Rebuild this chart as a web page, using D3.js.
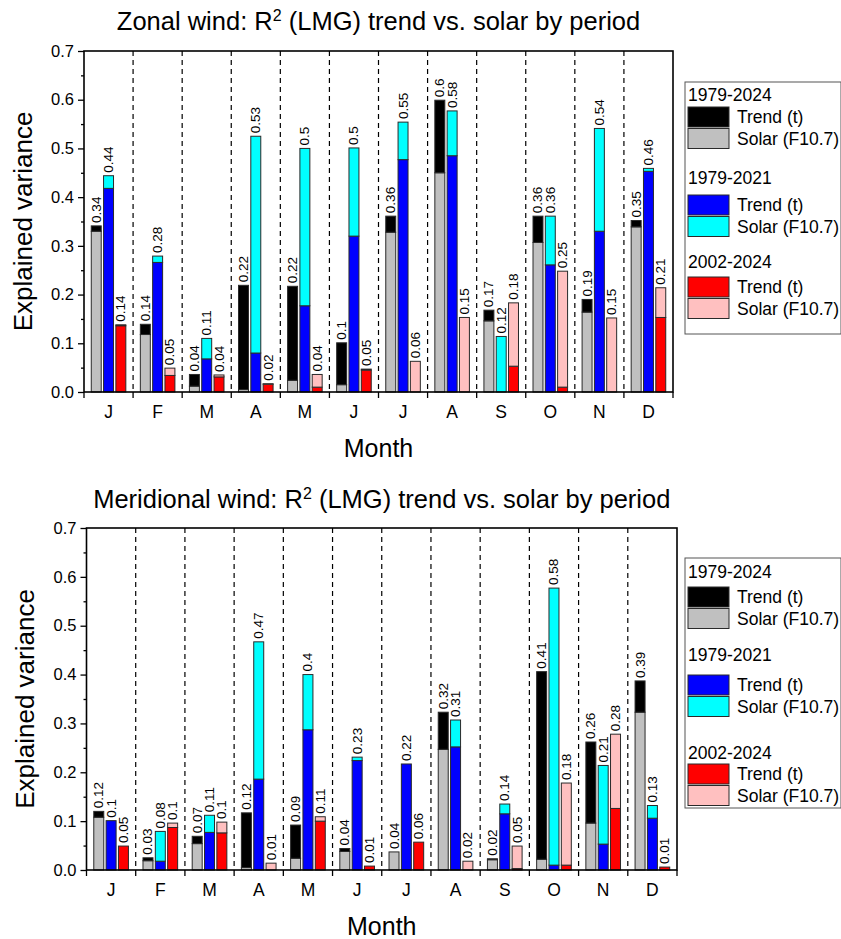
<!DOCTYPE html>
<html>
<head>
<meta charset="utf-8">
<script src="https://cdn.jsdelivr.net/npm/d3@7"></script>
<style>
  html, body { margin: 0; padding: 0; background: #fff; }
  svg { display: block; font-family: "Liberation Sans", Arial, sans-serif; }
</style>
</head>
<body>
<svg id="chart" width="841" height="939"></svg>
<script>
// ---------- DATA ----------
const monthLabels = ["J","F","M","A","M","J","J","A","S","O","N","D"];
const periods = ["1979-2024","1979-2021","2002-2024"];
const yTicks = [0, 0.1, 0.2, 0.3, 0.4, 0.5, 0.6, 0.7];
const legendItems = ["Trend (t)", "Solar (F10.7)"];

// Zonal wind
const zonalSolar7924 = [0.330,0.118,0.012,0.005,0.024,0.015,0.328,0.450,0.146,0.307,0.164,0.339];
const zonalTrend7924 = [0.011,0.021,0.024,0.214,0.193,0.086,0.033,0.149,0.022,0.054,0.026,0.013];
const zonalTrend7921 = [0.418,0.266,0.068,0.080,0.177,0.320,0.477,0.485,0.000,0.261,0.330,0.453];
const zonalSolar7921 = [0.026,0.013,0.042,0.445,0.323,0.181,0.077,0.092,0.114,0.100,0.211,0.006];
const zonalTrend0224 = [0.136,0.034,0.031,0.016,0.010,0.045,0.000,0.000,0.053,0.010,0.000,0.153];
const zonalSolar0224 = [0.002,0.015,0.004,0.001,0.026,0.002,0.063,0.153,0.130,0.238,0.152,0.061];
const zonalLabels7924 = ["0.34","0.14","0.04","0.22","0.22","0.1","0.36","0.6","0.17","0.36","0.19","0.35"];
const zonalLabels7921 = ["0.44","0.28","0.11","0.53","0.5","0.5","0.55","0.58","0.12","0.36","0.54","0.46"];
const zonalLabels0224 = ["0.14","0.05","0.04","0.02","0.04","0.05","0.06","0.15","0.18","0.25","0.15","0.21"];

// Meridional wind
const meridSolar7924 = [0.108,0.019,0.054,0.005,0.024,0.038,0.037,0.247,0.021,0.022,0.096,0.323];
const meridTrend7924 = [0.012,0.006,0.015,0.112,0.068,0.006,0.000,0.076,0.002,0.384,0.166,0.064];
const meridTrend7921 = [0.101,0.018,0.077,0.186,0.287,0.224,0.217,0.252,0.115,0.010,0.053,0.106];
const meridSolar7921 = [0.000,0.061,0.035,0.281,0.113,0.007,0.000,0.055,0.020,0.567,0.161,0.026];
const meridTrend0224 = [0.049,0.087,0.076,0.000,0.100,0.008,0.057,0.000,0.003,0.010,0.126,0.006];
const meridSolar0224 = [0.000,0.009,0.022,0.014,0.009,0.000,0.000,0.018,0.046,0.168,0.152,0.000];
const meridLabels7924 = ["0.12","0.03","0.07","0.12","0.09","0.04","0.04","0.32","0.02","0.41","0.26","0.39"];
const meridLabels7921 = ["0.1","0.08","0.11","0.47","0.4","0.23","0.22","0.31","0.14","0.58","0.21","0.13"];
const meridLabels0224 = ["0.05","0.1","0.1","0.01","0.11","0.01","0.06","0.02","0.05","0.18","0.28","0.01"];

// colours: [trend, solar] per period
const periodColors = [
  {trend: "#000000", solar: "#c0c0c0"},
  {trend: "#0000ff", solar: "#00ffff"},
  {trend: "#ff0000", solar: "#ffc0c0"}
];
// stacking order (bottom first) per period
const stackOrder = [["solar","trend"],["trend","solar"],["trend","solar"]];

// ---------- DRAW ----------
const svg = d3.select("#chart");
const FONT = "Liberation Sans, Arial, sans-serif";

function drawChart(cfg) {
  const g = svg.append("g");
  const months = d3.range(monthLabels.length);
  const x = d3.scaleBand().domain(months).range([cfg.x0, cfg.x1]).padding(0);
  const xi = d3.scaleBand().domain([0,1,2]).range([0, x.bandwidth()])
               .paddingInner(0.19).paddingOuter(0.59);
  const y = d3.scaleLinear().domain([0, 0.7]).range([cfg.y1, cfg.y0]);

  // dashed separators
  g.append("g").selectAll("line").data(d3.range(1, months.length)).join("line")
    .attr("x1", d => x(d)).attr("x2", d => x(d))
    .attr("y1", cfg.y0).attr("y2", cfg.y1)
    .attr("stroke", "#000").attr("stroke-width", 1.2)
    .attr("stroke-dasharray", "5,4");

  // bars
  cfg.series.forEach((s, p) => {
    months.forEach(m => {
      const vals = {trend: s.trend[m], solar: s.solar[m]};
      let base = 0;
      stackOrder[p].forEach(key => {
        const v = vals[key];
        if (v > 0) {
          g.append("rect")
            .attr("x", x(m) + xi(p))
            .attr("width", xi.bandwidth())
            .attr("y", y(base + v))
            .attr("height", y(base) - y(base + v))
            .attr("fill", periodColors[p][key])
            .attr("stroke", "#2a2a2a").attr("stroke-width", 1);
        }
        base += v;
      });
      const cx = x(m) + xi(p) + xi.bandwidth() / 2;
      const ty = y(base) - 3;
      g.append("text")
        .attr("transform", `translate(${cx + 4.5},${ty}) rotate(-90)`)
        .attr("font-size", 13.5).attr("font-family", FONT)
        .attr("fill", "#000")
        .text(s.labels[m]);
    });
  });

  // frame
  g.append("rect").attr("x", cfg.x0).attr("y", cfg.y0)
    .attr("width", cfg.x1 - cfg.x0).attr("height", cfg.y1 - cfg.y0)
    .attr("fill", "none").attr("stroke", "#000").attr("stroke-width", 1.6);

  // y axis
  const yAxis = d3.axisLeft(y).tickValues(yTicks).tickFormat(d3.format(".1f")).tickSize(6).tickPadding(4);
  const ya = g.append("g").attr("transform", `translate(${cfg.x0},0)`).call(yAxis);
  ya.select(".domain").remove();
  ya.selectAll("text").attr("font-size", 16.5).attr("font-family", FONT).attr("fill", "#000");
  ya.selectAll("line").attr("stroke-width", 1.3);
  const yMinor = d3.axisLeft(y).tickValues(d3.range(0.05, 0.7, 0.1)).tickFormat("").tickSize(3);
  const ym = g.append("g").attr("transform", `translate(${cfg.x0},0)`).call(yMinor);
  ym.select(".domain").remove();
  ym.selectAll("line").attr("stroke-width", 1.3);

  // x axis
  const xa = g.append("g");
  xa.selectAll("line").data(d3.range(0, months.length + 1)).join("line")
    .attr("x1", d => d < months.length ? x(d) : cfg.x1)
    .attr("x2", d => d < months.length ? x(d) : cfg.x1)
    .attr("y1", cfg.y1).attr("y2", cfg.y1 + 6)
    .attr("stroke", "#000").attr("stroke-width", 1.3);
  xa.selectAll("text").data(months).join("text")
    .attr("x", d => x(d) + x.bandwidth() / 2)
    .attr("y", cfg.y1 + 26)
    .attr("text-anchor", "middle")
    .attr("font-size", 17.5).attr("font-family", FONT)
    .text(d => monthLabels[d]);

  // axis titles
  g.append("text")
    .attr("transform", `translate(${cfg.yLabelX},${(cfg.y0 + cfg.y1) / 2}) rotate(-90)`)
    .attr("text-anchor", "middle").attr("font-size", 26).attr("font-family", FONT)
    .text("Explained variance");
  g.append("text")
    .attr("x", (cfg.x0 + cfg.x1) / 2).attr("y", cfg.y1 + 65)
    .attr("text-anchor", "middle").attr("font-size", 25).attr("font-family", FONT)
    .text("Month");

  // title
  const t = g.append("text")
    .attr("x", (cfg.x0 + cfg.x1) / 2).attr("y", cfg.titleY)
    .attr("text-anchor", "middle").attr("font-size", 25.5).attr("font-family", FONT);
  t.append("tspan").text(cfg.titleA);
  t.append("tspan").attr("dy", -9).attr("font-size", 16).text("2");
  t.append("tspan").attr("dy", 9).text(cfg.titleB);

  // legend
  const L = cfg.legend;
  const lg = g.append("g");
  lg.append("rect").attr("x", L.x).attr("y", L.y).attr("width", L.w).attr("height", L.h)
    .attr("fill", "#fff").attr("stroke", "#555").attr("stroke-width", 1);
  periods.forEach((pname, p) => {
    const gy = L.y + L.groupY[p];
    lg.append("text").attr("x", L.x + 3).attr("y", gy + 6)
      .attr("font-size", 17.5).attr("font-family", FONT).text(pname);
    ["trend","solar"].forEach((key, k) => {
      const sy = L.y + L.swatchY[p] + k * 21.5;
      lg.append("rect").attr("x", L.x + 3).attr("y", sy).attr("width", 41).attr("height", 20)
        .attr("fill", periodColors[p][key]).attr("stroke", "#2a2a2a").attr("stroke-width", 1);
      lg.append("text").attr("x", L.x + 52).attr("y", sy + 16)
        .attr("font-size", 17.5).attr("font-family", FONT).text(legendItems[k]);
    });
  });
}

drawChart({
  x0: 84, x1: 673, y0: 51, y1: 392, titleY: 30, yLabelX: 32,
  titleA: "Zonal wind: R", titleB: " (LMG) trend vs. solar by period",
  series: [
    {trend: zonalTrend7924, solar: zonalSolar7924, labels: zonalLabels7924},
    {trend: zonalTrend7921, solar: zonalSolar7921, labels: zonalLabels7921},
    {trend: zonalTrend0224, solar: zonalSolar0224, labels: zonalLabels0224}
  ],
  legend: {x: 685, y: 82, w: 156, h: 252, groupY: [13, 96, 180], swatchY: [25, 113, 195]}
});

drawChart({
  x0: 86.5, x1: 677, y0: 528, y1: 870, titleY: 508, yLabelX: 34,
  titleA: "Meridional wind: R", titleB: " (LMG) trend vs. solar by period",
  series: [
    {trend: meridTrend7924, solar: meridSolar7924, labels: meridLabels7924},
    {trend: meridTrend7921, solar: meridSolar7921, labels: meridLabels7921},
    {trend: meridTrend0224, solar: meridSolar0224, labels: meridLabels0224}
  ],
  legend: {x: 685, y: 558, w: 156, h: 250, groupY: [14, 97, 195], swatchY: [29, 117, 206]}
});
</script>
</body>
</html>
